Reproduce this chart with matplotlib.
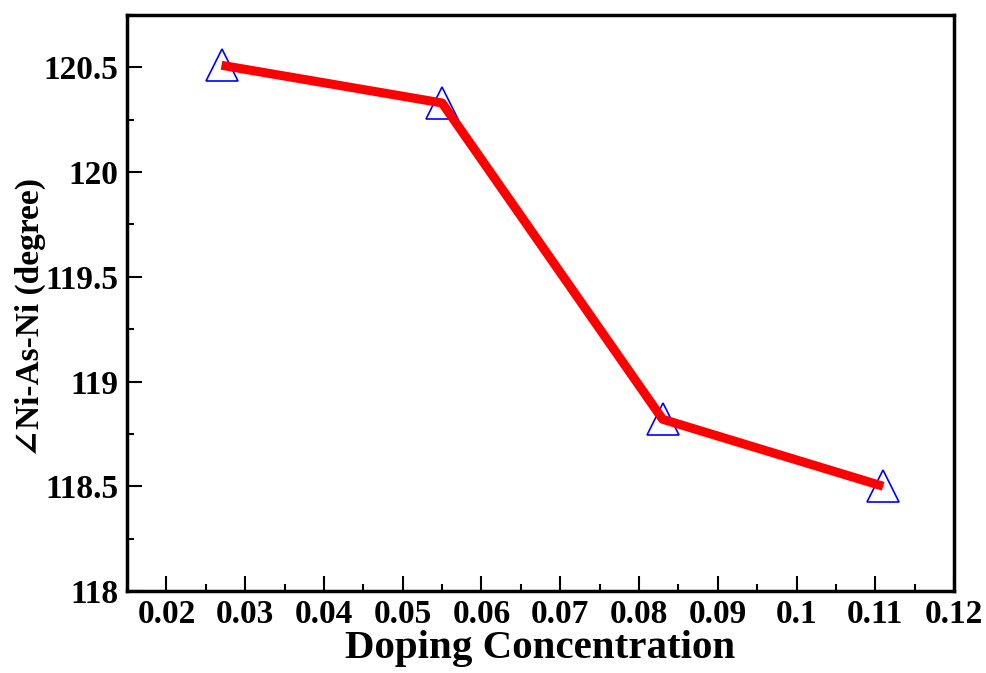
import matplotlib
matplotlib.use("Agg")
import matplotlib.pyplot as plt
from matplotlib.ticker import MultipleLocator

# values
doping = [0.027, 0.055, 0.083, 0.111]
angle = [120.51, 120.33, 118.82, 118.50]

xticks = [0.02, 0.03, 0.04, 0.05, 0.06, 0.07, 0.08, 0.09, 0.1, 0.11, 0.12]
xtick_labels = ['0.02', '0.03', '0.04', '0.05', '0.06', '0.07', '0.08', '0.09', '0.1', '0.11', '0.12']
yticks = [118, 118.5, 119, 119.5, 120, 120.5]
ytick_labels = ['118', '118.5', '119', '119.5', '120', '120.5']

plt.rcParams['font.family'] = ['Liberation Serif', 'DejaVu Serif']
plt.rcParams['font.weight'] = 'bold'

fig = plt.figure(figsize=(9.87, 6.73), dpi=100)
ax = fig.add_axes([0.1287, 0.1218, 0.8379, 0.8559])

ax.plot(doping, angle, color='red', linewidth=6.5, solid_capstyle='butt', zorder=3)
ax.plot(doping, angle, linestyle='none', marker='^', markersize=23,
        markerfacecolor='none', markeredgecolor='blue', markeredgewidth=1.2, zorder=2)

ax.set_xlim(0.015, 0.12)
ax.set_ylim(118, 120.75)
ax.xaxis.set_minor_locator(MultipleLocator(0.005))
ax.yaxis.set_minor_locator(MultipleLocator(0.25))
ax.set_xticks(xticks)
ax.set_xticklabels(xtick_labels)
ax.set_yticks(yticks)
ax.set_yticklabels(ytick_labels)

ax.tick_params(which='major', direction='in', length=11, width=1.5, labelsize=24, pad=6)
ax.tick_params(which='minor', direction='in', length=5, width=1.5)
ax.tick_params(top=False, right=False, which='both')
for s in ax.spines.values():
    s.set_linewidth(2.5)

ax.set_xlabel('Doping Concentration', fontsize=29.5, fontweight='bold', labelpad=0)
ax.set_ylabel('\u2220Ni-As-Ni (degree)', fontsize=24, fontweight='bold')
ax.yaxis.set_label_coords(-0.098, 0.475)

fig.savefig('out.png', dpi=100)
